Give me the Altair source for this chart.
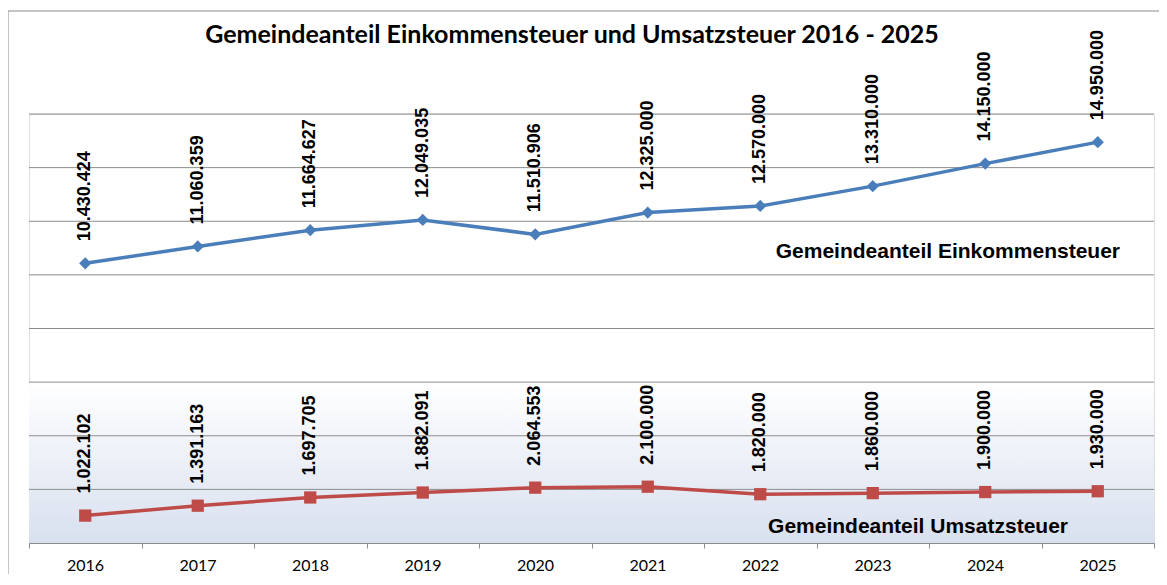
import altair as alt
import pandas as pd

years = list(range(2016, 2026))
einkommen = [10430424, 11060359, 11664627, 12049035, 11510906,
             12325000, 12570000, 13310000, 14150000, 14950000]
umsatz = [1022102, 1391163, 1697705, 1882091, 2064553,
          2100000, 1820000, 1860000, 1900000, 1930000]
series_names = ["Gemeindeanteil Einkommensteuer", "Gemeindeanteil Umsatzsteuer"]
title_text = "Gemeindeanteil Einkommensteuer und Umsatzsteuer 2016 - 2025"
grid_vals = [2000000, 4000000, 6000000, 8000000, 10000000, 12000000, 14000000, 16000000]

rows = []
for name, vals in zip(series_names, [einkommen, umsatz]):
    for yr, v in zip(years, vals):
        rows.append({"year": yr, "value": v, "series": name,
                     "label": f"{v:,}".replace(",", ".")})
df = pd.DataFrame(rows)
names_df = pd.DataFrame({"name": series_names})
grid_df = pd.DataFrame({"g": grid_vals})

x_domain = [years[0] - 0.5, years[-1] + 0.5]
band_df = pd.DataFrame({"bx": x_domain, "top": [grid_vals[2]] * 2, "bottom": [0, 0]})

W, H = 1125, 429
GRID = "#8c8c8c"

xscale = alt.Scale(domain=x_domain, nice=False, zero=False)
yscale = alt.Scale(domain=[0, 16000000], nice=False)
color_scale = alt.Scale(domain=series_names, range=["#4a7ebb", "#be4b48"])
shape_scale = alt.Scale(domain=series_names, range=["diamond", "square"])

tick_vals = [x_domain[0] + i for i in range(11)]

x_enc = alt.X(
    "year:Q", scale=xscale,
    axis=alt.Axis(values=tick_vals, grid=False, domainColor=GRID, tickColor=GRID,
                  tickSize=5, labelExpr="datum.value < 2025 ? '' + (datum.value + 0.5) : ''",
                  labelOffset=56, labelFont="Lato", labelFontSize=16, labelFontWeight="normal",
                  labelColor="#000000",
                  labelPadding=9, labelOverlap=False, labelFlush=False, title=None,
                  zindex=1),
)
y_enc = alt.Y("value:Q", scale=yscale, axis=None)

base = alt.Chart(df)

frame = alt.Chart(pd.DataFrame({"f": [1]})).mark_rect(
    fillOpacity=0, stroke=GRID, strokeWidth=1
).encode(
    x=alt.value(-21), x2=alt.value(1170), y=alt.value(-103), y2=alt.value(520))

band = alt.Chart(band_df).mark_area(
    color=alt.Gradient(
        gradient="linear", x1=1, x2=1, y1=0, y2=1,
        stops=[alt.GradientStop(offset=0, color="#ffffff"),
               alt.GradientStop(offset=1, color="#d8e0ef")]),
).encode(
    x=alt.X("bx:Q", scale=xscale),
    y=alt.Y("top:Q", scale=yscale, axis=None),
    y2="bottom:Q",
)

grid = alt.Chart(grid_df).mark_rule(color=GRID, strokeWidth=1).encode(
    y=alt.Y("g:Q", scale=yscale, axis=None),
)

lines = base.mark_line(strokeWidth=3.5).encode(
    x=x_enc, y=y_enc,
    color=alt.Color("series:N", scale=color_scale, legend=None),
    detail="series:N",
)
points = base.mark_point(filled=True, size=150, opacity=1).encode(
    x="year:Q", y="value:Q",
    color=alt.Color("series:N", scale=color_scale, legend=None),
    shape=alt.Shape("series:N", scale=shape_scale, legend=None),
)
labels = base.mark_text(angle=270, align="left", baseline="middle", dx=22,
                        font="Liberation Sans", fontSize=18, fontWeight="bold",
                        color="#000000").encode(
    x="year:Q", y="value:Q", text="label:N",
)

ser1 = alt.Chart(names_df).transform_filter(
    alt.datum.name == series_names[0]
).mark_text(align="right", baseline="middle", font="Liberation Sans", fontSize=21,
            fontWeight="bold", color="#000000").encode(
    x=alt.value(1091), y=alt.value(138), text="name:N")
ser2 = alt.Chart(names_df).transform_filter(
    alt.datum.name == series_names[1]
).mark_text(align="right", baseline="middle", font="Liberation Sans", fontSize=21,
            fontWeight="bold", color="#000000").encode(
    x=alt.value(1039), y=alt.value(413), text="name:N")

title_df = pd.DataFrame({"t": [title_text]})
title = alt.Chart(title_df).mark_text(
    align="center", baseline="alphabetic", font="Lato", fontSize=25,
    fontWeight="bold", color="#000000").encode(
    x=alt.value(543), y=alt.value(-71), text="t:N")

chart = alt.layer(frame, band, grid, lines, points, labels, ser1, ser2, title).properties(
    width=W, height=H,
    autosize=alt.AutoSizeParams(type="none"),
    padding={"left": 21, "top": 106, "right": 5, "bottom": 31},
).configure_view(
    stroke=None,
).configure(background="#ffffff")

chart.save("out.html", embed_options={"renderer": "svg", "actions": False})
